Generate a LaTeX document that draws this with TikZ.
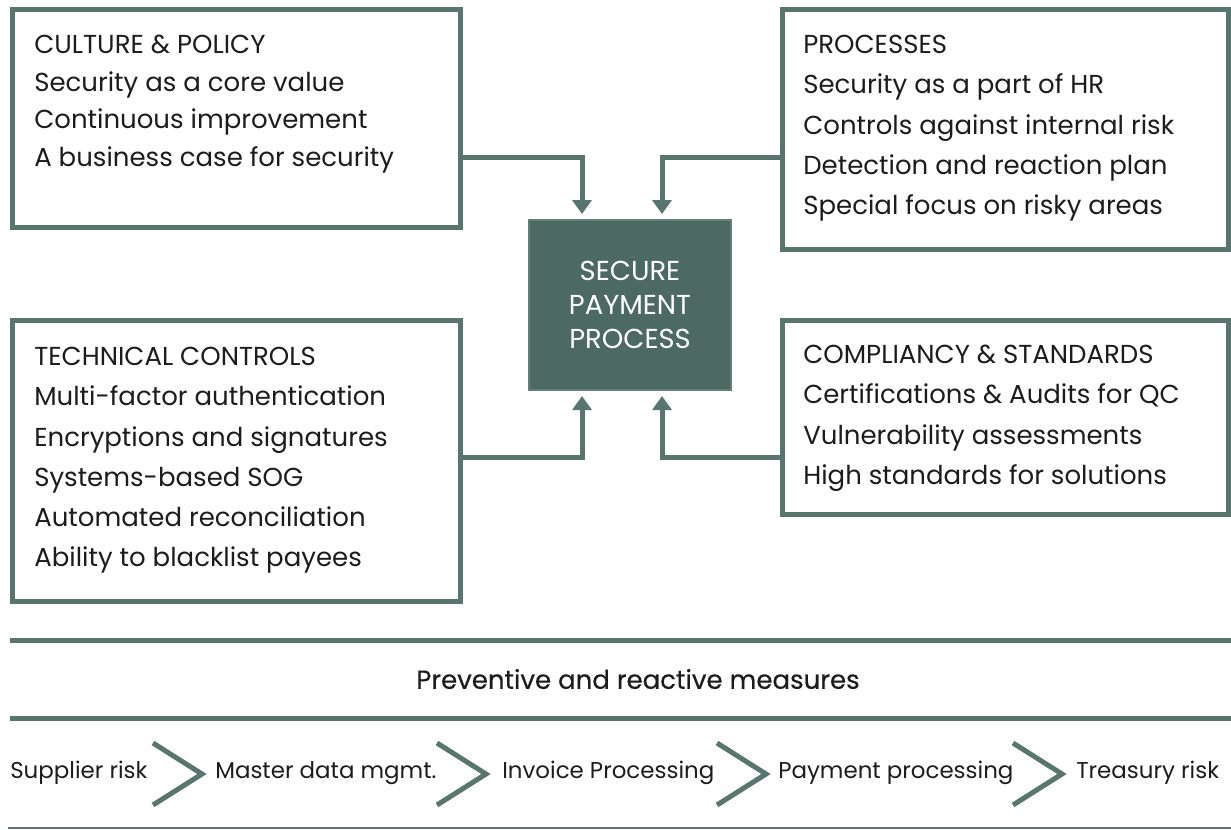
\documentclass[tikz,border=0pt]{standalone}
\usepackage{fontspec}
\setmainfont{Poppins}
\newfontfamily\mediumfont{Poppins}[FakeBold=0.4]
\usepackage{tikz}
\usetikzlibrary{arrows.meta,calc,fit}
\definecolor{sage}{RGB}{88,118,109}
\definecolor{sagedark}{RGB}{77,106,98}
\definecolor{sagelight}{RGB}{98,128,119}
\definecolor{ink}{RGB}{28,28,28}

\begin{document}
\begin{tikzpicture}[x=0.25mm, y=-0.25mm, inner sep=0pt,
    panel/.style={draw=sage, line width=1.25mm},
    core/.style={draw=sagelight, line width=0.5mm, fill=sagedark},
    coretxt/.style={text=white, align=center, font=\fontsize{19.5}{24.2}\selectfont},
    txt/.style={anchor=north west, align=left, text=ink, font=\fontsize{18.5}{28.6}\selectfont},
    flow/.style={draw=sage, line width=1.25mm, shorten >=1.25mm,
              -{Triangle[length=3.5mm, width=4.75mm]}},
    rule/.style={draw=sage, line width=1.25mm},
    chevron/.style={draw=sage, line width=1.25mm, miter limit=10},
    stage/.style={anchor=west, text=ink, font=\fontsize{16.3}{20}\selectfont}]
\useasboundingbox (0,0) rectangle (1231,829);

% four boxes round the centre
\node[panel, fit={(12,9) (460,227)}] (culture) {};
\node[panel, fit={(782,9) (1228,249)}] (processes) {};
\node[panel, fit={(12,320) (460,601)}] (technical) {};
\node[panel, fit={(782,320) (1228,514)}] (compliancy) {};

\node[txt, font=\fontsize{18.5}{26.7}\selectfont] (culturetxt) at (34,35)
    {CULTURE \& POLICY\\Security as a core value\\Continuous improvement\\A business case for security};
\node[txt] (processestxt) at (803,35)
    {PROCESSES\\Security as a part of HR\\Controls against internal risk\\Detection and reaction plan\\Special focus on risky areas};
\node[txt] (technicaltxt) at (34,347)
    {TECHNICAL CONTROLS\\Multi-factor authentication\\Encryptions and signatures\\Systems-based SOG\\Automated reconciliation\\Ability to blacklist payees};
\node[txt] (compliancytxt) at (803,345)
    {COMPLIANCY \& STANDARDS\\Certifications \& Audits for QC\\Vulnerability assessments\\High standards for solutions};

\node[core, fit={(529,220) (731,390)}] (secure) {};
\node[coretxt] (securetxt) at (secure.center) {SECURE\\PAYMENT\\PROCESS};

% arrows into the centre
\draw[flow] ($(culture.east)+(0,39)$) -| ($(secure.north)+(-48,0)$);
\draw[flow] ($(processes.west)+(0,28)$) -| ($(secure.north)+(32,0)$);
\draw[flow] ($(technical.east)+(0,-3)$) -| ($(secure.south)+(-48,0)$);
\draw[flow] ($(compliancy.west)+(0,40)$) -| ($(secure.south)+(32,0)$);

% measures band
\draw[rule] (10,640) -- (1231,640);
\node[text=ink, font=\mediumfont\fontsize{18.5}{22}\selectfont] (measures) at (638,679) {Preventive and reactive measures};
\draw[rule] (10,718) -- (1231,718);
\draw[draw=sage, line width=0.5mm] (8,828) -- (1231,828);

% stages along the chain
\node[stage] (s1) at (10,773) {Supplier risk};
\node[stage] (s2) at (215,773) {Master data mgmt.};
\node[stage] (s3) at (502,773) {Invoice Processing};
\node[stage] (s4) at (778,773) {Payment processing};
\node[stage] (s5) at (1076,773) {Treasury risk};

\foreach \i/\cx in {1/153, 2/437, 3/717, 4/1013} {
    \coordinate (chev\i) at (\cx,774);
    \draw[chevron] ($(chev\i)+(0,-31)$) -- ($(chev\i)+(49,0)$) -- ($(chev\i)+(0,31)$);
}
\end{tikzpicture}
\end{document}
